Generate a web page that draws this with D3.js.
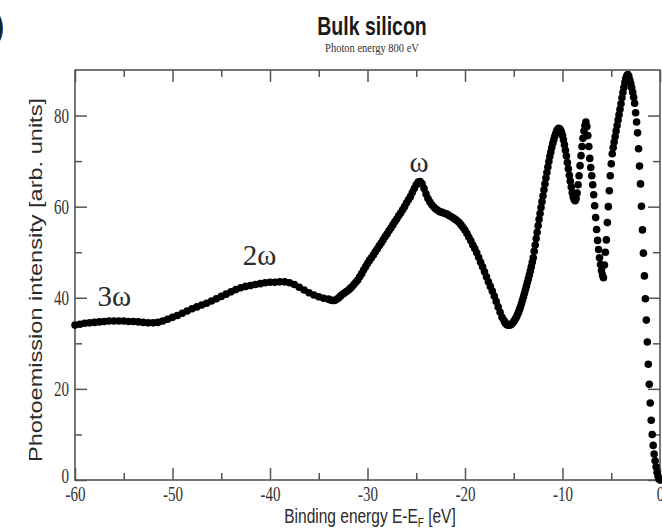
<!DOCTYPE html>
<html><head><meta charset="utf-8">
<script src="https://cdn.jsdelivr.net/npm/d3@7"></script>
<style>body{margin:0;background:#fff;} svg{display:block}</style>
</head><body><svg id="c" width="662" height="532"></svg>
<script>
// ---- data ----
const energyCoarse = [-60,-59.5,-59,-58.5,-58,-57.5,-57,-56.5,-56,-55.5,-55,-54.5,-54,-53.5,-53,-52.5,-52,-51.5,-51,-50.5,-50,-49.5,-49,-48.5,-48,-47.5,-47,-46.5,-46,-45.5,-45,-44.5,-44,-43.5,-43,-42.5,-42,-41.5,-41,-40.5,-40,-39.5,-39,-38.5,-38,-37.5,-37,-36.5,-36,-35.5,-35,-34.5];
const intensityCoarse = [34.0,34.2,34.4,34.5,34.6,34.7,34.8,34.9,34.9,34.9,34.9,34.8,34.8,34.7,34.6,34.5,34.5,34.6,34.9,35.3,35.7,36.1,36.6,37.1,37.6,38.0,38.4,38.8,39.3,39.8,40.3,40.8,41.3,41.8,42.2,42.5,42.7,42.9,43.1,43.3,43.4,43.4,43.5,43.5,43.3,42.9,42.3,41.7,41.1,40.6,40.2,39.9];

const energyMid = [-34,-33.8,-33.6,-33.4,-33.2,-33,-32.8,-32.6,-32.4,-32.2,-32,-31.8,-31.6,-31.4,-31.2,-31,-30.8,-30.6,-30.4,-30.2,-30,-29.8,-29.6,-29.4,-29.2,-29,-28.8,-28.6,-28.4,-28.2,-28,-27.8,-27.6,-27.4,-27.2,-27,-26.8,-26.6,-26.4,-26.2,-26,-25.8,-25.6,-25.4,-25.2,-25,-24.8,-24.6,-24.4,-24.2,-24,-23.8,-23.6,-23.4,-23.2,-23,-22.8,-22.6,-22.4,-22.2,-22,-21.8,-21.6,-21.4,-21.2,-21,-20.8,-20.6,-20.4,-20.2,-20,-19.8,-19.6,-19.4,-19.2,-19,-18.8,-18.6,-18.4,-18.2,-18,-17.8,-17.6,-17.4,-17.2,-17,-16.8,-16.6,-16.4,-16.2];
const intensityMid = [39.7,39.5,39.4,39.4,39.6,39.9,40.3,40.7,41.0,41.3,41.6,42.0,42.4,42.9,43.4,43.9,44.6,45.3,46.1,46.8,47.5,48.2,48.8,49.4,50.1,50.7,51.4,52.0,52.7,53.4,54.0,54.7,55.3,56.0,56.7,57.3,58.0,58.6,59.3,60.0,60.8,61.5,62.2,63.1,64.0,64.8,65.4,65.5,65.0,64.0,62.8,61.8,61.0,60.4,59.9,59.5,59.2,58.9,58.8,58.6,58.5,58.3,58.0,57.8,57.5,57.2,56.9,56.5,56.0,55.4,54.8,54.1,53.3,52.5,51.6,50.8,49.9,48.9,47.8,46.8,45.7,44.6,43.5,42.5,41.5,40.4,39.2,38.0,36.8,35.7];

const energyFine = [-16,-15.9,-15.8,-15.7,-15.6,-15.5,-15.4,-15.3,-15.2,-15.1,-15,-14.9,-14.8,-14.7,-14.6,-14.5,-14.4,-14.3,-14.2,-14.1,-14,-13.9,-13.8,-13.7,-13.6,-13.5,-13.4,-13.3,-13.2,-13.1,-13,-12.9,-12.8,-12.7,-12.6,-12.5,-12.4,-12.3,-12.2,-12.1,-12,-11.9,-11.8,-11.7,-11.6,-11.5,-11.4,-11.3,-11.2,-11.1,-11,-10.9,-10.8,-10.7,-10.6,-10.5,-10.4,-10.3,-10.2,-10.1,-10,-9.9,-9.8,-9.7,-9.6,-9.5,-9.4,-9.3,-9.2,-9.1,-9,-8.9,-8.8,-8.7,-8.6,-8.5,-8.4,-8.3,-8.2,-8.1,-8,-7.9,-7.8,-7.7,-7.6,-7.5,-7.4,-7.3,-7.2,-7.1,-7,-6.9,-6.8,-6.7,-6.6,-6.5,-6.4,-6.3,-6.2,-6.1,-6,-5.9,-5.8,-5.7,-5.6,-5.5,-5.4,-5.3,-5.2,-5.1,-5,-4.9,-4.8,-4.7,-4.6,-4.5,-4.4,-4.3,-4.2,-4.1,-4,-3.9,-3.8,-3.7,-3.6,-3.5,-3.4,-3.3,-3.2,-3.1,-3,-2.9,-2.8,-2.7,-2.6,-2.5,-2.4,-2.3,-2.2,-2.1,-2,-1.9,-1.8,-1.7,-1.6,-1.5,-1.4,-1.3,-1.2,-1.1,-1,-0.9,-0.8,-0.7,-0.6,-0.5,-0.4,-0.3,-0.2,-0.1,0];
const intensityFine = [35.0,34.6,34.3,34.1,34.0,34.0,34.0,34.1,34.3,34.5,34.8,35.1,35.5,35.9,36.4,36.9,37.5,38.1,38.8,39.5,40.2,41.0,41.8,42.6,43.4,44.2,45.0,45.9,46.8,47.8,48.8,50.2,51.6,53.0,54.4,55.8,57.2,58.5,59.8,61.1,62.4,63.7,65.0,66.3,67.5,68.7,69.9,71.0,72.0,73.0,73.9,74.7,75.4,76.0,76.6,77.0,77.2,77.1,76.8,76.3,75.6,74.7,73.6,72.4,71.1,69.7,68.3,66.9,65.6,64.3,63.1,62.2,61.6,61.3,61.8,63.0,64.8,66.8,69.0,71.2,73.2,75.0,76.6,77.8,78.6,77.6,75.6,73.2,70.6,68.6,66.8,64.8,62.6,60.2,57.6,55.0,52.6,50.6,48.8,47.3,46.0,45.0,44.4,47.2,50.0,52.7,56.5,60.0,63.5,66.8,69.4,71.6,73.0,74.2,75.4,76.6,77.8,79.0,80.2,81.4,82.6,83.9,85.1,86.2,87.3,88.2,88.8,89.0,88.6,87.8,87.0,86.1,85.1,84.0,82.7,80.6,78.6,76.2,72.7,68.9,65.0,60.1,54.9,49.8,44.8,39.8,35.1,30.3,25.4,21.0,16.9,13.1,10.0,7.6,5.7,4.2,2.9,1.7,0.8,0.2,0.0];

const xMajorTicks = [-60,-50,-40,-30,-20,-10,0];
const xMinorTicks = [-55,-45,-35,-25,-15,-5];
const yMajorTicks = [0,20,40,60,80];
const yMinorTicks = [10,30,50,70];

const titleText = "Bulk silicon";
const subtitleText = "Photon energy 800 eV";
const yLabelText = "Photoemission intensity [arb. units]";
const annotations = [
  {label:"3\u03c9", e:-57.7, v:38.2},
  {label:"2\u03c9", e:-42.8, v:47.2},
  {label:"\u03c9",  e:-25.7, v:67.7}
];

// ---- build ----
function zip(es, vs){
  if (es.length !== vs.length) throw new Error("length mismatch " + es.length + " vs " + vs.length);
  return es.map((e,i)=>({e, v: vs[i]}));
}
const points = [].concat(zip(energyCoarse,intensityCoarse), zip(energyMid,intensityMid), zip(energyFine,intensityFine));

const svg = d3.select('#c');
svg.append('rect').attr('width',662).attr('height',532).attr('fill','#fff');

const L=75, R=660, T=70, B=480;
const x = d3.scaleLinear().domain([-60,0]).range([L,R]);
const y = d3.scaleLinear().domain([0,90]).range([B,T]);
const axisColor = '#555';
const SY = 1.35; // vertical stretch of the original lettering
const SANS = '"Liberation Sans", Arial, sans-serif';
const SERIF = '"Liberation Serif", "Times New Roman", serif';

function cleanAxis(g){
  g.select('.domain').remove();
  g.selectAll('.tick line').attr('stroke',axisColor).attr('stroke-width',1.5);
}
const fmt = d => d < 0 ? '-' + Math.abs(d) : String(d);

// bottom
const gb = svg.append('g').attr('transform',`translate(0,${B})`)
  .call(d3.axisBottom(x).tickValues(xMajorTicks).tickSize(-12).tickFormat(fmt));
cleanAxis(gb);
gb.selectAll('.tick text').attr('y',0).attr('dy',0)
  .attr('transform',`translate(0,21) scale(1,${SY})`)
  .attr('font-family',SERIF).attr('font-size',15).attr('fill','#333');
svg.append('g').attr('transform',`translate(0,${B})`)
  .call(d3.axisBottom(x).tickValues(xMinorTicks).tickSize(-7).tickFormat('')).call(cleanAxis);
// top
svg.append('g').attr('transform',`translate(0,${T})`)
  .call(d3.axisTop(x).tickValues(xMajorTicks).tickSize(-12).tickFormat('')).call(cleanAxis);
svg.append('g').attr('transform',`translate(0,${T})`)
  .call(d3.axisTop(x).tickValues(xMinorTicks).tickSize(-7).tickFormat('')).call(cleanAxis);
// left
const gl = svg.append('g').attr('transform',`translate(${L},0)`)
  .call(d3.axisLeft(y).tickValues(yMajorTicks).tickSize(-12).tickFormat(fmt));
cleanAxis(gl);
gl.selectAll('.tick text').attr('x',0).attr('dy',0)
  .attr('transform',d => `translate(-6,${d === 0 ? 2.5 : 6.5}) scale(1,${SY})`)
  .attr('font-family',SERIF).attr('font-size',15).attr('fill','#333');
svg.append('g').attr('transform',`translate(${L},0)`)
  .call(d3.axisLeft(y).tickValues(yMinorTicks).tickSize(-7).tickFormat('')).call(cleanAxis);
// right
svg.append('g').attr('transform',`translate(${R},0)`)
  .call(d3.axisRight(y).tickValues(yMajorTicks).tickSize(-12).tickFormat('')).call(cleanAxis);
svg.append('g').attr('transform',`translate(${R},0)`)
  .call(d3.axisRight(y).tickValues(yMinorTicks).tickSize(-7).tickFormat('')).call(cleanAxis);

// frame
svg.append('rect').attr('x',L).attr('y',T).attr('width',R-L).attr('height',B-T)
  .attr('fill','none').attr('stroke',axisColor).attr('stroke-width',1.6);

// data points
svg.append('g').selectAll('circle').data(points).join('circle')
  .attr('cx',d=>x(d.e)).attr('cy',d=>y(d.v)).attr('r',3.8).attr('fill','#000');

// annotations
svg.append('g').selectAll('text').data(annotations).join('text')
  .attr('x',d=>x(d.e)).attr('y',d=>y(d.v))
  .attr('font-family',SERIF).attr('font-size',29).attr('fill','#2a2a2a')
  .text(d=>d.label);

// title & subtitle
svg.append('text').attr('transform',`translate(372,35) scale(1,1.35)`)
  .attr('text-anchor','middle').attr('font-family',SANS).attr('font-weight','bold')
  .attr('font-size',19.5).attr('fill','#1a1a1a').text(titleText);
svg.append('text').attr('transform',`translate(372,52) scale(1,1.2)`)
  .attr('text-anchor','middle').attr('font-family',SERIF)
  .attr('font-size',10.5).attr('fill','#333').text(subtitleText);

// axis titles
const xl = svg.append('text').attr('transform',`translate(370,523) scale(1,${SY})`)
  .attr('text-anchor','middle').attr('font-family',SANS)
  .attr('font-size',15.5).attr('fill','#2a2a2a');
xl.append('tspan').text('Binding energy E-E');
xl.append('tspan').attr('font-size',10).attr('dy',3).text('F');
xl.append('tspan').attr('dy',-3).text(' [eV]');

svg.append('text').attr('transform','translate(42,280) rotate(-90)')
  .attr('text-anchor','middle').attr('font-family',SANS)
  .attr('font-size',17.5).attr('fill','#2a2a2a')
  .attr('textLength',364).attr('lengthAdjust','spacingAndGlyphs')
  .text(yLabelText);

// clipped panel letter at top-left edge
svg.append('text').attr('x',5).attr('y',38).attr('text-anchor','end')
  .attr('font-family',SANS).attr('font-size',36).attr('fill','#222')
  .text('(b)');
</script>
</body></html>
